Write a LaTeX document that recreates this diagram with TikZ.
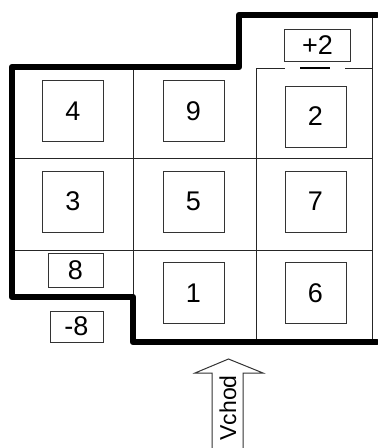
\documentclass[tikz,border=0pt]{standalone}
\usepackage{fontspec}
\setmainfont{Liberation Sans}
\usetikzlibrary{positioning}

\begin{document}
\begin{tikzpicture}[x=1pt, y=-1pt,
  cell/.style={draw=black!80, line width=1pt, minimum width=61pt, minimum height=61pt,
               inner sep=0pt, font=\fontsize{27}{29}\selectfont},
  tag/.style={draw=black!80, line width=1pt, minimum width=54pt, minimum height=33pt,
              inner sep=0pt, font=\fontsize{27}{29}\selectfont},
  grid/.style={draw=black!85, line width=0.9pt},
  wall/.style={draw=black, line width=6.5pt, line join=round, line cap=round},
  entry/.style={draw=black!80, line width=1pt, fill=white},
]
\useasboundingbox (0,0) rectangle (378,448);

% ===== THIN GRID =====
\draw[grid] (133,67) -- (133,342);
\draw[grid] (256,68) -- (256,342);
\draw[grid] (372,15) -- (372,342);
\draw[grid] (12,158) -- (372,158);
\draw[grid] (12,250) -- (372,250);
\draw[grid] (256,68) -- (285,68);
\draw[grid] (345,68) -- (372,68);
\draw[draw=black, line width=2pt] (300,68) -- (330,68);

% ===== THICK OUTLINE =====
\draw[wall] (377,15) -- (239,15) -- (239,67) -- (12,67) -- (12,297)
  -- (133,297) -- (133,342) -- (377,342);

% ===== NUMBERED BOXES =====
\node[cell] (b4) at (73,111) {4};
\node[cell] (b9) at (193.5,111) {9};
\node[cell] (b2) at (315.5,116.5) {2};
\node[cell] (b3) at (73,201.5) {3};
\node[cell] (b5) at (193.5,201.5) {5};
\node[cell] (b7) at (315.5,201.5) {7};
\node[cell] (b1) at (193.5,293) {1};
\node[cell] (b6) at (315.5,293) {6};

% ===== LEVEL TAGS =====
\node[tag, minimum width=66pt, minimum height=32pt] (up2) at (317.5,45) {+2};
\node[tag, minimum width=55pt, minimum height=34pt] (b8) at (75.5,270) {8};
\node[tag, minimum width=53pt, minimum height=31pt] (dn8) at (76.5,326.5) {-8};

% ===== ENTRANCE ARROW =====
\draw[entry] (212,448) -- (212,373) -- (195,373) -- (228.5,359) -- (263,373)
  -- (243,373) -- (243,448);
\node[rotate=90, font=\fontsize{23}{25}\selectfont, inner sep=0pt] (vchod) at (228,408) {Vchod};

\end{tikzpicture}
\end{document}
